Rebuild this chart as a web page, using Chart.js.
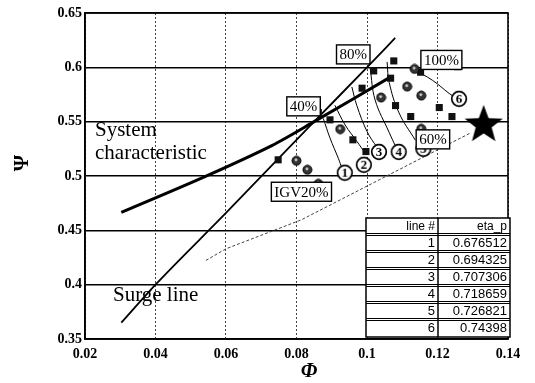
<!DOCTYPE html>
<html>
<head>
<meta charset="utf-8">
<script src="https://cdn.jsdelivr.net/npm/chart.js@4.4.1/dist/chart.umd.min.js"></script>
<style>
  html, body { margin: 0; padding: 0; background: #fff; }
</style>
</head>
<body>
<canvas id="chart" width="535" height="383"></canvas>
<script>
"use strict";

// axis ticks
const xTickValues = [0.02, 0.04, 0.06, 0.08, 0.1, 0.12, 0.14];
const xTickLabels = ["0.02", "0.04", "0.06", "0.08", "0.1", "0.12", "0.14"];
const yTickValues = [0.35, 0.4, 0.45, 0.5, 0.55, 0.6, 0.65];
const yTickLabels = ["0.35", "0.4", "0.45", "0.5", "0.55", "0.6", "0.65"];

// lines
const surgeX = [0.0303, 0.04, 0.06, 0.085, 0.1, 0.108];
const surgeY = [0.365, 0.40, 0.466, 0.55, 0.60, 0.627];
const systemX = [0.0303, 0.0537, 0.073, 0.085, 0.1066];
const systemY = [0.4665, 0.499, 0.528, 0.55, 0.591];
const dottedX = [0.0543, 0.06, 0.0814, 0.1294];
const dottedY = [0.4223, 0.433, 0.4597, 0.5397];

// constant-efficiency curves 1..6
const effX = [
    [0.0876, 0.0895, 0.0919, 0.0929],
    [0.0909, 0.0938, 0.0971, 0.0995],
    [0.0957, 0.0971, 0.1000, 0.1029],
    [0.1009, 0.1023, 0.1063, 0.1080],
    [0.1057, 0.1063, 0.1091, 0.1137],
    [0.1133, 0.1186, 0.1233, 0.1251]
];
const effY = [
    [0.553, 0.535, 0.516, 0.507],
    [0.565, 0.547, 0.532, 0.521],
    [0.582, 0.565, 0.541, 0.526],
    [0.599, 0.570, 0.540, 0.528],
    [0.605, 0.586, 0.558, 0.533],
    [0.598, 0.588, 0.576, 0.572]
];
const effLabelX = [0.0937, 0.0991, 0.1034, 0.1090, 0.1160, 0.1261];
const effLabelY = [0.503, 0.5103, 0.5222, 0.5222, 0.525, 0.571];
const effLabels = ["1", "2", "3", "4", "5", "6"];

// measured points
const squareX = [0.0748, 0.0862, 0.0895, 0.0960, 0.0997, 0.1019, 0.1076, 0.1067, 0.1152, 0.1081, 0.1124, 0.1241, 0.0986, 0.1205, 0.1257];
const squareY = [0.5149, 0.5584, 0.5517, 0.5333, 0.5225, 0.5967, 0.6059, 0.5900, 0.5955, 0.5648, 0.5547, 0.5547, 0.5808, 0.5630, 0.6006];
const discX = [0.0800, 0.0831, 0.0862, 0.0924, 0.1040, 0.1114, 0.1135, 0.1154, 0.1154];
const discY = [0.5140, 0.5057, 0.4928, 0.5431, 0.5722, 0.5823, 0.5985, 0.5740, 0.5434];

// design point
const starX = [0.1331];
const starY = [0.547];

// IGV labels
const igvLabels = ["80%", "100%", "40%", "60%", "IGV20%"];
const igvX = [0.0961, 0.1211, 0.0820, 0.1187, 0.0814];
const igvY = [0.6119, 0.6068, 0.5641, 0.5337, 0.4855];

// efficiency table
const tableHeader = ["line #", "eta_p"];
const lineNums = ["1", "2", "3", "4", "5", "6"];
const etaP = ["0.676512", "0.694325", "0.707306", "0.718659", "0.726821", "0.74398"];

const SERIF = '"Liberation Serif", "Times New Roman", serif';
const SANS = '"Liberation Sans", Arial, sans-serif';

function zip(xs, ys) {
    return xs.map((x, i) => ({ x: x, y: ys[i] }));
}

function makeStar(r) {
    const c = document.createElement("canvas");
    c.width = c.height = 2 * r + 2;
    const g = c.getContext("2d");
    g.beginPath();
    for (let i = 0; i < 10; i++) {
        const rad = i % 2 === 0 ? r : r * 0.42;
        const a = -Math.PI / 2 + i * Math.PI / 5;
        g.lineTo(r + 1 + rad * Math.cos(a), r + 1 + rad * Math.sin(a));
    }
    g.closePath();
    g.fillStyle = "#000";
    g.fill();
    return c;
}

function makeDisc() {
    const c = document.createElement("canvas");
    c.width = c.height = 11;
    const g = c.getContext("2d");
    g.beginPath();
    g.arc(5.5, 5.5, 4.5, 0, Math.PI * 2);
    g.fillStyle = "#333";
    g.fill();
    g.lineWidth = 1;
    g.strokeStyle = "#000";
    g.stroke();
    g.beginPath();
    g.arc(5, 4.6, 1.4, 0, Math.PI * 2);
    g.fillStyle = "#d8d8d8";
    g.fill();
    return c;
}

function makeCircled(label) {
    const c = document.createElement("canvas");
    c.width = c.height = 18;
    const g = c.getContext("2d");
    g.beginPath();
    g.arc(9, 9, 7.3, 0, Math.PI * 2);
    g.fillStyle = "#fff";
    g.fill();
    g.lineWidth = 1.7;
    g.strokeStyle = "#000";
    g.stroke();
    g.fillStyle = "#000";
    g.font = "bold 13px " + SERIF;
    g.textAlign = "center";
    g.textBaseline = "middle";
    g.fillText(label, 9, 10);
    return c;
}

const datasets = [];

datasets.push({
    label: "IGV points",
    data: zip(discX, discY),
    pointStyle: makeDisc(),
    order: 0
});
datasets.push({
    label: "points",
    data: zip(squareX, squareY),
    pointStyle: "rect",
    pointRadius: 5,
    backgroundColor: "#111",
    borderColor: "#000",
    borderWidth: 0,
    order: 0
});
datasets.push({
    label: "design point",
    data: zip(starX, starY),
    pointStyle: makeStar(20),
    order: 0
});
datasets.push({
    label: "line #",
    data: zip(effLabelX, effLabelY),
    pointStyle: effLabels.map(makeCircled),
    order: 1
});
effX.forEach((xs, i) => {
    datasets.push({
        label: "eta line " + effLabels[i],
        data: zip(xs, effY[i]),
        showLine: true,
        tension: 0.4,
        borderColor: "#000",
        borderWidth: 1,
        pointRadius: 0,
        order: 2
    });
});
datasets.push({
    label: "System characteristic",
    data: zip(systemX, systemY),
    showLine: true,
    tension: 0.3,
    borderColor: "#000",
    borderWidth: 3,
    pointRadius: 0,
    order: 3
});
datasets.push({
    label: "Surge line",
    data: zip(surgeX, surgeY),
    showLine: true,
    cubicInterpolationMode: "monotone",
    borderColor: "#000",
    borderWidth: 1.8,
    pointRadius: 0,
    order: 3
});
datasets.push({
    label: "operating line",
    data: zip(dottedX, dottedY),
    showLine: true,
    borderColor: "#444",
    borderWidth: 1,
    borderDash: [3, 2],
    pointRadius: 0,
    order: 3
});

const overlay = {
    id: "overlay",

    beforeDatasetsDraw: function (chart) {
        const a = chart.chartArea;
        const ctx = chart.ctx;
        ctx.save();
        ctx.strokeStyle = "#000";
        ctx.lineWidth = 1.6;
        ctx.strokeRect(a.left, a.top, a.right - a.left, a.bottom - a.top);
        ctx.restore();
    },

    afterDatasetsDraw: function (chart) {
        const ctx = chart.ctx;
        const xs = chart.scales.x;
        const ys = chart.scales.y;
        ctx.save();

        // IGV boxes
        ctx.font = "15px " + SERIF;
        ctx.textAlign = "center";
        ctx.textBaseline = "middle";
        igvLabels.forEach((t, i) => {
            const cx = xs.getPixelForValue(igvX[i]);
            const cy = ys.getPixelForValue(igvY[i]);
            const w = ctx.measureText(t).width + 6;
            const h = 19;
            ctx.fillStyle = "#fff";
            ctx.fillRect(cx - w / 2, cy - h / 2, w, h);
            ctx.lineWidth = 1.4;
            ctx.strokeStyle = "#000";
            ctx.strokeRect(cx - w / 2, cy - h / 2, w, h);
            ctx.fillStyle = "#000";
            ctx.fillText(t, cx, cy + 1);
        });

        // free text
        ctx.font = "21px " + SERIF;
        ctx.textAlign = "left";
        ctx.textBaseline = "alphabetic";
        ctx.fillText("System", 95, 136);
        ctx.fillText("characteristic", 95, 159);
        ctx.fillText("Surge line", 113, 301);

        // table
        const left = 366, mid = 438, right = 510, top = 218, rowH = 17;
        const rows = lineNums.length + 1;
        ctx.fillStyle = "#fff";
        ctx.fillRect(left, top, right - left, rows * rowH);
        ctx.strokeStyle = "#000";
        ctx.lineWidth = 1;
        for (let r = 1; r < rows; r++) {
            ctx.beginPath();
            ctx.moveTo(left, top + r * rowH - 1.5);
            ctx.lineTo(right, top + r * rowH - 1.5);
            ctx.moveTo(left, top + r * rowH + 0.5);
            ctx.lineTo(right, top + r * rowH + 0.5);
            ctx.stroke();
        }
        ctx.lineWidth = 1.5;
        ctx.strokeRect(left, top, right - left, rows * rowH);
        ctx.beginPath();
        ctx.moveTo(mid, top);
        ctx.lineTo(mid, top + rows * rowH);
        ctx.stroke();

        ctx.fillStyle = "#000";
        ctx.textAlign = "right";
        ctx.textBaseline = "middle";
        ctx.font = "12px " + SANS;
        ctx.fillText(tableHeader[0], mid - 3, top + rowH / 2);
        ctx.fillText(tableHeader[1], right - 3, top + rowH / 2);
        ctx.font = "13px " + SANS;
        lineNums.forEach((n, i) => {
            const cy = top + (i + 1) * rowH + rowH / 2;
            ctx.fillText(n, mid - 3, cy);
            ctx.fillText(etaP[i], right - 3, cy);
        });

        // axis titles
        ctx.textAlign = "center";
        ctx.textBaseline = "middle";
        ctx.font = "bold italic 21px " + SERIF;
        ctx.fillText("\u03A6", 309, 372);
        ctx.translate(23, 163);
        ctx.rotate(-Math.PI / 2);
        ctx.font = "bold 21px " + SERIF;
        ctx.fillText("\u03A8", 0, 0);

        ctx.restore();
    }
};

new Chart(document.getElementById("chart").getContext("2d"), {
    type: "scatter",
    data: { datasets: datasets },
    options: {
        responsive: false,
        animation: false,
        devicePixelRatio: 1,
        layout: { padding: { left: 0, right: 27, top: 13, bottom: 0 } },
        plugins: {
            legend: { display: false },
            tooltip: { enabled: false }
        },
        scales: {
            x: {
                type: "linear",
                min: 0.02,
                max: 0.14,
                afterBuildTicks: (s) => { s.ticks = xTickValues.map(v => ({ value: v })); },
                afterFit: (s) => { s.height = 44; },
                ticks: {
                    padding: 7,
                    color: "#000",
                    font: { family: SERIF, size: 14, weight: "bold" },
                    maxRotation: 0,
                    callback: (v, i) => xTickLabels[i]
                },
                grid: { color: "#444", lineWidth: 1, drawTicks: false },
                border: { color: "#000", width: 1.6, dash: [2, 2] }
            },
            y: {
                type: "linear",
                min: 0.35,
                max: 0.65,
                afterBuildTicks: (s) => { s.ticks = yTickValues.map(v => ({ value: v })); },
                afterFit: (s) => { s.width = 85; },
                ticks: {
                    padding: 3,
                    color: "#000",
                    font: { family: SERIF, size: 14, weight: "bold" },
                    callback: (v, i) => yTickLabels[i]
                },
                grid: { color: "#000", lineWidth: 1.4, drawTicks: false },
                border: { color: "#000", width: 1.6 }
            }
        }
    },
    plugins: [overlay]
});
</script>
</body>
</html>
